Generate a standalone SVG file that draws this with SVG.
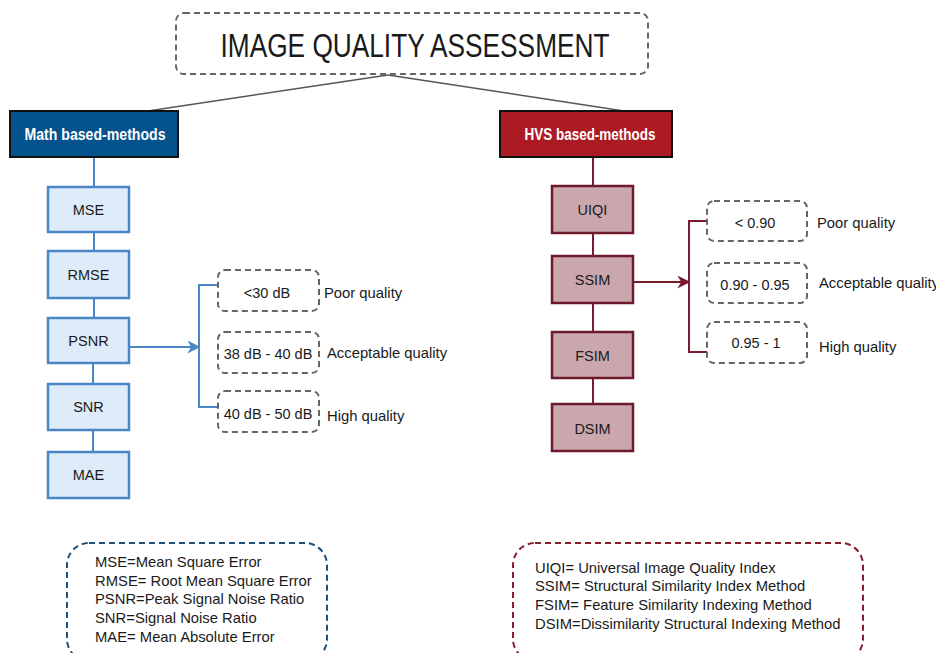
<svg xmlns="http://www.w3.org/2000/svg" width="936" height="653" viewBox="0 0 936 653">
  <defs>
    <marker id="arrBlue" viewBox="0 0 10 10" refX="9" refY="5" markerWidth="13" markerHeight="13" orient="auto" markerUnits="userSpaceOnUse">
      <path d="M0,0 L10,5 L0,10 L3,5 z" fill="#4a86c5"/>
    </marker>
    <marker id="arrRed" viewBox="0 0 10 10" refX="9" refY="5" markerWidth="13" markerHeight="13" orient="auto" markerUnits="userSpaceOnUse">
      <path d="M0,0 L10,5 L0,10 L3,5 z" fill="#7a1a2e"/>
    </marker>
  </defs>
  <style>
    text { font-family: "Liberation Sans", Arial, sans-serif; fill: #1a1a1a; }
    .dash { fill: #fff; stroke: #666; stroke-width: 2; stroke-dasharray: 6 4; }
    .mbox { fill: #deebf8; stroke: #4a86c5; stroke-width: 2.5; }
    .hbox { fill: #c9a7ad; stroke: #6e1a2c; stroke-width: 2.5; }
    .lbl { font-size: 14.5px; text-anchor: middle; }
    .q { font-size: 14.8px; }
    .leg { font-size: 14.8px; }
    .head { font-size: 16px; font-weight: bold; fill: #fff; text-anchor: middle; }
    .blue { fill: none; stroke: #4a86c5; stroke-width: 2; }
    .red { fill: none; stroke: #7a1a2e; stroke-width: 2; }
  </style>
  <rect width="936" height="653" fill="#fff"/>

  <g id="connectors">
    <line x1="388" y1="75" x2="148" y2="111" stroke="#555" stroke-width="1.5"/>
    <line x1="388" y1="75" x2="624" y2="111" stroke="#555" stroke-width="1.5"/>
    <!-- math chain -->
    <line class="blue" x1="94" y1="157" x2="94" y2="187"/>
    <line class="blue" x1="94" y1="232" x2="94" y2="251"/>
    <line class="blue" x1="94" y1="298" x2="94" y2="318"/>
    <line class="blue" x1="93" y1="363" x2="93" y2="384"/>
    <line class="blue" x1="93" y1="430" x2="93" y2="452"/>
    <line class="blue" x1="129" y1="347" x2="199" y2="347" marker-end="url(#arrBlue)"/>
    <path class="blue" d="M218,285 H199 V407 H218"/>
    <!-- hvs chain -->
    <line class="red" x1="593" y1="157" x2="593" y2="186"/>
    <line class="red" x1="593" y1="233" x2="593" y2="256"/>
    <line class="red" x1="593" y1="303" x2="593" y2="332"/>
    <line class="red" x1="593" y1="378" x2="593" y2="404"/>
    <line class="red" x1="633" y1="282" x2="689" y2="282" marker-end="url(#arrRed)"/>
    <path class="red" d="M707,221 H689 V352 H707"/>
  </g>

  <g id="title">
    <rect class="dash" x="176" y="13" width="472" height="61" rx="8"/>
    <text x="415" y="57" font-size="33" text-anchor="middle" textLength="389" lengthAdjust="spacingAndGlyphs">IMAGE QUALITY ASSESSMENT</text>
  </g>

  <g id="math">
    <rect x="10" y="111" width="168" height="46" fill="#04538c" stroke="#111" stroke-width="2"/>
    <text class="head" x="95" y="140" textLength="141" lengthAdjust="spacingAndGlyphs">Math based-methods</text>
  </g>
  <g id="hvs">
    <rect x="500" y="111" width="172" height="46" fill="#ac1a24" stroke="#111" stroke-width="2"/>
    <text class="head" x="590" y="140" textLength="131" lengthAdjust="spacingAndGlyphs">HVS based-methods</text>
  </g>

  <g id="mse"><rect class="mbox" x="48" y="187" width="81" height="45"/><text class="lbl" x="88.5" y="215">MSE</text></g>
  <g id="rmse"><rect class="mbox" x="48" y="251" width="81" height="47"/><text class="lbl" x="88.5" y="280">RMSE</text></g>
  <g id="psnr"><rect class="mbox" x="48" y="318" width="81" height="45"/><text class="lbl" x="88.5" y="346">PSNR</text></g>
  <g id="snr"><rect class="mbox" x="48" y="384" width="81" height="46"/><text class="lbl" x="88.5" y="412">SNR</text></g>
  <g id="mae"><rect class="mbox" x="48" y="452" width="81" height="46"/><text class="lbl" x="88.5" y="480">MAE</text></g>

  <g id="psnr-poor"><rect class="dash" x="218" y="270" width="101" height="41" rx="7"/><text class="lbl" x="267" y="298">&lt;30 dB</text><text class="q" x="324" y="298">Poor quality</text></g>
  <g id="psnr-acc"><rect class="dash" x="218" y="332" width="101" height="41" rx="7"/><text class="lbl" x="268" y="359">38 dB - 40 dB</text><text class="q" x="327" y="358">Acceptable quality</text></g>
  <g id="psnr-high"><rect class="dash" x="218" y="391" width="101" height="41" rx="7"/><text class="lbl" x="268" y="419">40 dB - 50 dB</text><text class="q" x="327" y="421">High quality</text></g>

  <g id="uiqi"><rect class="hbox" x="552" y="186" width="81" height="47"/><text class="lbl" x="592.5" y="215">UIQI</text></g>
  <g id="ssim"><rect class="hbox" x="552" y="256" width="81" height="47"/><text class="lbl" x="592.5" y="285">SSIM</text></g>
  <g id="fsim"><rect class="hbox" x="552" y="332" width="81" height="46"/><text class="lbl" x="592.5" y="361">FSIM</text></g>
  <g id="dsim"><rect class="hbox" x="552" y="404" width="81" height="47"/><text class="lbl" x="592.5" y="434">DSIM</text></g>

  <g id="ssim-poor"><rect class="dash" x="707" y="201" width="100" height="40" rx="7"/><text class="lbl" x="755" y="228">&lt; 0.90</text><text class="q" x="817" y="228">Poor quality</text></g>
  <g id="ssim-acc"><rect class="dash" x="707" y="263" width="100" height="40" rx="7"/><text class="lbl" x="755" y="290">0.90 - 0.95</text><text class="q" x="819" y="288">Acceptable quality</text></g>
  <g id="ssim-high"><rect class="dash" x="707" y="322" width="100" height="41" rx="7"/><text class="lbl" x="756" y="348">0.95 - 1</text><text class="q" x="819" y="352">High quality</text></g>

  <g id="legend-math">
    <rect x="67" y="543" width="260" height="118" rx="22" fill="none" stroke="#1f4f7d" stroke-width="2" stroke-dasharray="6 4"/>
    <text class="leg" x="95" y="567">MSE=Mean Square Error</text>
    <text class="leg" x="95" y="586">RMSE= Root Mean Square Error</text>
    <text class="leg" x="95" y="604">PSNR=Peak Signal Noise Ratio</text>
    <text class="leg" x="95" y="623">SNR=Signal Noise Ratio</text>
    <text class="leg" x="95" y="642">MAE= Mean Absolute Error</text>
  </g>
  <g id="legend-hvs">
    <rect x="513" y="543" width="350" height="118" rx="22" fill="none" stroke="#8a1c2c" stroke-width="2" stroke-dasharray="6 4"/>
    <text class="leg" x="535" y="573">UIQI= Universal Image Quality Index</text>
    <text class="leg" x="535" y="591">SSIM= Structural Similarity Index Method</text>
    <text class="leg" x="535" y="610">FSIM= Feature Similarity Indexing Method</text>
    <text class="leg" x="535" y="629">DSIM=Dissimilarity Structural Indexing Method</text>
  </g>
</svg>
